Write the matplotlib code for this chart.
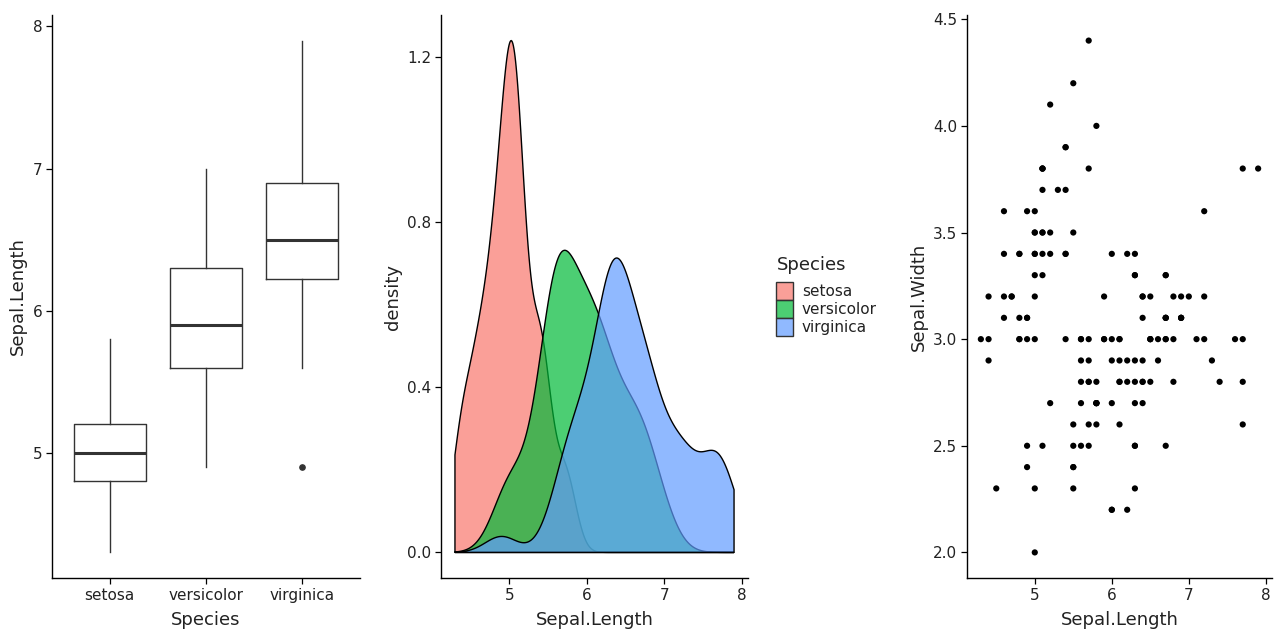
import numpy as np
import matplotlib
matplotlib.use("Agg")
import matplotlib.pyplot as plt
from matplotlib.patches import Patch

# ---------------- data (iris) ----------------
species = ["setosa", "versicolor", "virginica"]
setosa_len = [5.1,4.9,4.7,4.6,5.0,5.4,4.6,5.0,4.4,4.9,5.4,4.8,4.8,4.3,5.8,5.7,5.4,5.1,5.7,5.1,
              5.4,5.1,4.6,5.1,4.8,5.0,5.0,5.2,5.2,4.7,4.8,5.4,5.2,5.5,4.9,5.0,5.5,4.9,4.4,5.1,
              5.0,4.5,4.4,5.0,5.1,4.8,5.1,4.6,5.3,5.0]
setosa_wid = [3.5,3.0,3.2,3.1,3.6,3.9,3.4,3.4,2.9,3.1,3.7,3.4,3.0,3.0,4.0,4.4,3.9,3.5,3.8,3.8,
              3.4,3.7,3.6,3.3,3.4,3.0,3.4,3.5,3.4,3.2,3.1,3.4,4.1,4.2,3.1,3.2,3.5,3.6,3.0,3.4,
              3.5,2.3,3.2,3.5,3.8,3.0,3.8,3.2,3.7,3.3]
versicolor_len = [7.0,6.4,6.9,5.5,6.5,5.7,6.3,4.9,6.6,5.2,5.0,5.9,6.0,6.1,5.6,6.7,5.6,5.8,6.2,5.6,
                  5.9,6.1,6.3,6.1,6.4,6.6,6.8,6.7,6.0,5.7,5.5,5.5,5.8,6.0,5.4,6.0,6.7,6.3,5.6,5.5,
                  5.5,6.1,5.8,5.0,5.6,5.7,5.7,6.2,5.1,5.7]
versicolor_wid = [3.2,3.2,3.1,2.3,2.8,2.8,3.3,2.4,2.9,2.7,2.0,3.0,2.2,2.9,2.9,3.1,3.0,2.7,2.2,2.5,
                  3.2,2.8,2.5,2.8,2.9,3.0,2.8,3.0,2.9,2.6,2.4,2.4,2.7,2.7,3.0,3.4,3.1,2.3,3.0,2.5,
                  2.6,3.0,2.6,2.3,2.7,3.0,2.9,2.9,2.5,2.8]
virginica_len = [6.3,5.8,7.1,6.3,6.5,7.6,4.9,7.3,6.7,7.2,6.5,6.4,6.8,5.7,5.8,6.4,6.5,7.7,7.7,6.0,
                 6.9,5.6,7.7,6.3,6.7,7.2,6.2,6.1,6.4,7.2,7.4,7.9,6.4,6.3,6.1,7.7,6.3,6.4,6.0,6.9,
                 6.7,6.9,5.8,6.8,6.7,6.7,6.3,6.5,6.2,5.9]
virginica_wid = [3.3,2.7,3.0,2.9,3.0,3.0,2.5,2.9,2.5,3.6,3.2,2.7,3.0,2.5,2.8,3.2,3.0,3.8,2.6,2.2,
                 3.2,2.8,2.8,2.7,3.3,3.2,2.8,3.0,2.8,3.0,2.8,3.8,2.8,2.8,2.6,3.0,3.4,3.1,3.0,3.1,
                 3.1,3.1,2.7,3.2,3.3,3.0,2.5,3.0,3.4,3.0]
colors = ["#F8766D", "#00BA38", "#619CFF"]

lengths = [np.array(setosa_len), np.array(versicolor_len), np.array(virginica_len)]
widths_ = [np.array(setosa_wid), np.array(versicolor_wid), np.array(virginica_wid)]

# ---------------- style ----------------
plt.rcParams["font.family"] = ["DejaVu Sans"]
TICK_FS = 11
LAB_FS = 13
TXT = "#222222"

fig = plt.figure(figsize=(12.75, 6.3), dpi=100)
fig.patch.set_facecolor("white")

H = 630.0
W = 1275.0
bottom = (H - 578) / H
top = (H - 15) / H

def make_ax(l, r):
    ax = fig.add_axes([l / W, bottom, (r - l) / W, top - bottom])
    for s in ["top", "right"]:
        ax.spines[s].set_visible(False)
    for s in ["left", "bottom"]:
        ax.spines[s].set_linewidth(1.0)
        ax.spines[s].set_color("black")
    ax.tick_params(axis="both", which="major", direction="out", length=4,
                   width=0.9, color="black", labelsize=TICK_FS, labelcolor=TXT, pad=3)
    return ax

def expand(lo, hi, f=0.05):
    d = (hi - lo) * f
    return lo - d, hi + d

# ---------------- panel 1: boxplot ----------------
ax1 = make_ax(52, 360)
pos = [1, 2, 3]
ax1.boxplot(lengths, positions=pos, widths=0.75, whis=1.5, showcaps=False,
            boxprops=dict(color="#333333", linewidth=1.0),
            whiskerprops=dict(color="#333333", linewidth=1.0),
            medianprops=dict(color="#333333", linewidth=2.2),
            flierprops=dict(marker="o", markerfacecolor="#333333", markeredgecolor="#333333",
                            markersize=3.8))
ax1.set_xlim(0.4, 3.6)
allL = np.concatenate(lengths)
ax1.set_ylim(*expand(allL.min(), allL.max()))
ax1.set_xticks(pos)
ax1.set_xticklabels(species)
ax1.set_yticks([5, 6, 7, 8])
ax1.set_xlabel("Species", fontsize=LAB_FS, color=TXT, labelpad=6)
ax1.set_ylabel("Sepal.Length", fontsize=LAB_FS, color=TXT, labelpad=4)

# ---------------- panel 2: density ----------------
ax2 = make_ax(441, 748)
xlo, xhi = allL.min(), allL.max()
grid = np.linspace(xlo, xhi, 512)

def bw_nrd0(x):
    sd = np.std(x, ddof=1)
    q75, q25 = np.percentile(x, [75, 25])
    lo = min(sd, (q75 - q25) / 1.34)
    return 0.9 * lo * len(x) ** (-0.2)

dens = []
for x in lengths:
    bw = bw_nrd0(x)
    z = (grid[:, None] - x[None, :]) / bw
    d = np.exp(-0.5 * z ** 2).sum(axis=1) / (len(x) * bw * np.sqrt(2 * np.pi))
    dens.append(d)

handles = []
for name, d, c in zip(species, dens, colors):
    px = np.concatenate([[grid[0]], grid, [grid[-1]]])
    py = np.concatenate([[0.0], d, [0.0]])
    rgba = matplotlib.colors.to_rgba(c, 0.7)
    ax2.fill(px, py, facecolor=rgba, edgecolor="black", linewidth=1.0, closed=True)
    handles.append(Patch(facecolor=rgba, edgecolor="#333333", linewidth=1.0, label=name))

ymax = max(d.max() for d in dens)
ax2.set_xlim(*expand(xlo, xhi))
ax2.set_ylim(*expand(0, ymax))
ax2.set_xticks([5, 6, 7, 8])
ax2.set_yticks([0.0, 0.4, 0.8, 1.2])
ax2.set_yticklabels(["0.0", "0.4", "0.8", "1.2"])
ax2.set_xlabel("Sepal.Length", fontsize=LAB_FS, color=TXT, labelpad=6)
ax2.set_ylabel("density", fontsize=LAB_FS, color=TXT, labelpad=4)

fig.text(777 / W, 1 - 265 / H, "Species", fontsize=LAB_FS, color=TXT,
         ha="left", va="center")
leg = fig.legend(handles=handles, loc="upper left",
                 bbox_to_anchor=(776 / W, 1 - 282 / H), frameon=False,
                 fontsize=TICK_FS, borderpad=0, borderaxespad=0,
                 handlelength=1.1, handleheight=1.45, handletextpad=0.6,
                 labelspacing=0.0)
for t in leg.get_texts():
    t.set_color(TXT)

# ---------------- panel 3: scatter ----------------
ax3 = make_ax(967, 1272)
allW = np.concatenate(widths_)
ax3.scatter(allL, allW, s=20, color="black", edgecolors="none")
ax3.set_xlim(*expand(allL.min(), allL.max()))
ax3.set_ylim(*expand(allW.min(), allW.max()))
ax3.set_xticks([5, 6, 7, 8])
ax3.set_yticks([2.0, 2.5, 3.0, 3.5, 4.0, 4.5])
ax3.set_yticklabels(["2.0", "2.5", "3.0", "3.5", "4.0", "4.5"])
ax3.set_xlabel("Sepal.Length", fontsize=LAB_FS, color=TXT, labelpad=6)
ax3.set_ylabel("Sepal.Width", fontsize=LAB_FS, color=TXT, labelpad=4)

fig.savefig("out.png", dpi=100, facecolor="white")
